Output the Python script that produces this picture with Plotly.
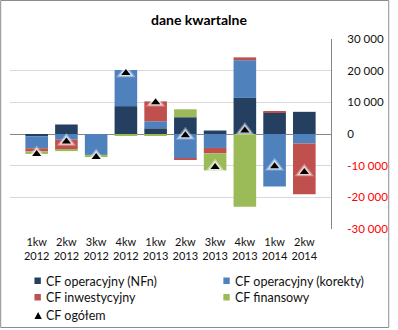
import plotly.graph_objects as go

# Quarterly cash-flow components (thousands)
quarters = ["1kw<br>2012", "2kw<br>2012", "3kw<br>2012", "4kw<br>2012", "1kw<br>2013",
            "2kw<br>2013", "3kw<br>2013", "4kw<br>2013", "1kw<br>2014", "2kw<br>2014"]
cf_oper_nfn = [-700, 3000, 0, 8800, 1800, 5300, 1100, 11400, 6800, 7000]
cf_oper_korekty = [-3800, -1800, -6600, 11400, 2200, -7800, -4400, 11900, -16600, -3000]
cf_inwest = [-1000, -3100, 0, 0, 6300, -400, -1700, 900, 300, -16000]
cf_finans = [-800, -500, -700, -500, -400, 2500, -5400, -23000, 0, 0]
cf_ogolem = [-6300, -2400, -7300, 19300, 10000, -400, -10400, 1100, -10200, -12000]

y_ticks = [30000, 20000, 10000, 0, -10000, -20000, -30000]
y_tick_labels = ["30 000", "20 000", "10 000", "0", "-10 000", "-20 000", "-30 000"]

names = ["CF operacyjny (NFn)", "CF operacyjny (korekty)", "CF inwestycyjny", "CF finansowy"]
colors = ["#243F60", "#4F81BD", "#C0504D", "#9BBB59"]
series = [cf_oper_nfn, cf_oper_korekty, cf_inwest, cf_finans]

FONT = "Lato"
W, H = 398, 330
ML, MR, MT, MB = 10, 60, 39, 101
PW, PH = W - ML - MR, H - MT - MB


def px(x):
    return (x - ML) / PW


def py(y):
    return (H - MB - y) / PH


fig = go.Figure()
for name, color, vals in zip(names, colors, series):
    fig.add_trace(go.Bar(x=quarters, y=vals, name=name, marker_color=color,
                         marker_line_width=0, showlegend=False))

# soft white halo behind the total markers
for size, op in [(17, 0.35), (13, 0.6)]:
    fig.add_trace(go.Scatter(x=quarters, y=cf_ogolem, mode="markers", showlegend=False,
                             marker=dict(symbol="triangle-up", size=size, color="white",
                                         opacity=op, line_width=0),
                             hoverinfo="skip"))
fig.add_trace(go.Scatter(x=quarters, y=cf_ogolem, mode="markers", name="CF ogółem",
                         showlegend=False,
                         marker=dict(symbol="triangle-up", size=8, color="black", line_width=0)))

tick_text = [t if v >= 0 else f'<span style="color:#FF0000">{t}</span>'
             for v, t in zip(y_ticks, y_tick_labels)]

shapes = [
    # chart frame
    dict(type="rect", xref="paper", yref="paper", x0=px(0.5), x1=px(397), y0=py(0.5), y1=py(327.5),
         line=dict(color="#8C8C8C", width=1), fillcolor="rgba(0,0,0,0)", layer="below"),
]
annotations = []

# legend entries: (x of symbol, y centre, colour or None for triangle, label)
legend_items = [
    (35, 281, colors[0], names[0]),
    (228, 281, colors[1], names[1]),
    (35, 297.5, colors[2], names[2]),
    (228, 297.5, colors[3], names[3]),
    (35, 315.5, None, "CF ogółem"),
]
for lx, ly, col, label in legend_items:
    if col is not None:
        shapes.append(dict(type="rect", xref="paper", yref="paper",
                           x0=px(lx), x1=px(lx + 6.5), y0=py(ly - 3.5), y1=py(ly + 3),
                           line_width=0, fillcolor=col))
    else:
        path = "M {} {} L {} {} L {} {} Z".format(px(lx), py(ly + 3.5), px(lx + 7.5), py(ly + 3.5),
                                                  px(lx + 3.75), py(ly - 3.5))
        shapes.append(dict(type="path", xref="paper", yref="paper", path=path,
                           line_width=0, fillcolor="black"))
    annotations.append(dict(xref="paper", yref="paper", x=px(lx + 9.5), y=py(ly), text=label,
                            showarrow=False, xanchor="left", yanchor="middle",
                            font=dict(family=FONT, size=12.5, color="#111111")))

fig.update_layout(
    width=W, height=H,
    margin=dict(l=ML, r=MR, t=MT, b=MB),
    paper_bgcolor="white", plot_bgcolor="white",
    barmode="relative", bargap=0.24,
    title=dict(text="<b>dane kwartalne</b>", x=0.5, xref="container", xanchor="center",
               y=1 - 20 / H, yref="container", yanchor="middle",
               font=dict(family=FONT, size=14, color="#000000")),
    xaxis=dict(type="category", showgrid=False, zeroline=False, showline=False, ticks="",
               tickfont=dict(family=FONT, size=11, color="#111111"), ticklabelstandoff=5),
    yaxis=dict(side="right", range=[-30000, 30000], tickvals=y_ticks, ticktext=tick_text,
               showgrid=True, gridcolor="#D9D9D9", gridwidth=1,
               zeroline=True, zerolinecolor="#868686", zerolinewidth=1,
               showline=True, linecolor="#868686", linewidth=1, ticks="",
               ticklabelstandoff=13,
               tickfont=dict(family=FONT, size=11.5, color="#111111")),
    shapes=shapes, annotations=annotations,
    showlegend=False,
)

fig.write_html("out.html")
